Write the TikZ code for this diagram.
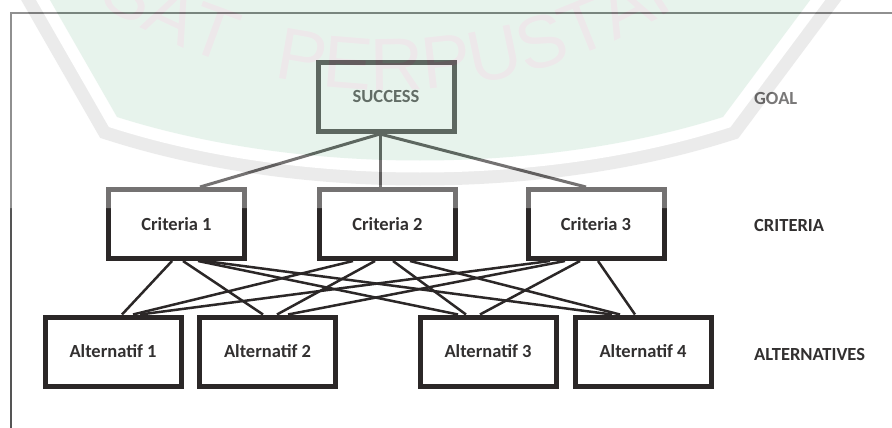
\documentclass[tikz,border=0pt]{standalone}
\usepackage{fontspec}
\setmainfont{Carlito}
\newfontfamily\wmfont{Liberation Sans}
\usetikzlibrary{decorations.text}
\definecolor{ink}{RGB}{43,39,39}
\definecolor{inktext}{RGB}{50,48,48}
\definecolor{framegrey}{RGB}{85,85,85}
\definecolor{wmgrey}{RGB}{200,200,200}
\definecolor{wmgreen}{RGB}{189,223,203}
\definecolor{wmtext}{RGB}{205,190,195}
\newcommand\lblfont{\fontsize{18.5}{20}\selectfont\bfseries}
\newcommand\sealfont{\wmfont\fontsize{74}{80}\selectfont\color{wmtext}}

\begin{document}
\begin{tikzpicture}[x=1pt,y=-1pt,
  box/.style={draw=ink, line width=5pt, fill=white, minimum width=136pt,
    minimum height=69pt, inner sep=0pt, text=inktext, font=\lblfont},
  tier/.style={anchor=west, inner sep=0pt, text=inktext, font=\lblfont},
  toplink/.style={draw=ink, line width=3pt},
  link/.style={draw=ink, line width=2.5pt}]

\useasboundingbox (0,0) rectangle (892,428);
\fill[white] (0,0) rectangle (892,428);

% frame lines
\draw[framegrey, line width=1.2pt] (892,13) -- (11,13) -- (11,428);

% hierarchy boxes
\node[box] (goal) at (386,97) {SUCCESS};
\node[box] (c1) at (176.5,224) {Criteria 1};
\node[box] (c2) at (387.5,224) {Criteria 2};
\node[box] (c3) at (596,224) {Criteria 3};
\node[box] (a1) at (113,351.5) {Alternatif 1};
\node[box] (a2) at (267.5,351.5) {Alternatif 2};
\node[box] (a3) at (488,351.5) {Alternatif 3};
\node[box] (a4) at (643,351.5) {Alternatif 4};

% level labels
\node[tier] (lgoal) at (754,98) {GOAL};
\node[tier] (lcrit) at (754,225) {CRITERIA};
\node[tier] (lalt) at (754,354) {ALTERNATIVES};

% goal to criteria
\draw[toplink] ([xshift=-6]goal.south) -- ([xshift=23.5]c1.north);
\draw[toplink] ([xshift=-6]goal.south) -- ([xshift=-7.5]c2.north);
\draw[toplink] ([xshift=-6]goal.south) -- ([xshift=-10]c3.north);

% criteria to alternatives
\draw[link] ([xshift=-4.5]c1.south) -- ([xshift=9]a1.north);
\draw[link] ([xshift=6.5]c1.south) -- ([xshift=-4.5]a2.north);
\draw[link] ([xshift=21.5]c1.south) -- ([xshift=-30]a3.north);
\draw[link] ([xshift=28.5]c1.south) -- ([xshift=-31]a4.north);

\draw[link] ([xshift=-34.5]c2.south) -- ([xshift=20]a1.north);
\draw[link] ([xshift=-12.5]c2.south) -- ([xshift=9.5]a2.north);
\draw[link] ([xshift=5.5]c2.south) -- ([xshift=-22]a3.north);
\draw[link] ([xshift=22.5]c2.south) -- ([xshift=-23]a4.north);

\draw[link] ([xshift=-46]c3.south) -- ([xshift=27]a1.north);
\draw[link] ([xshift=-31]c3.south) -- ([xshift=20.5]a2.north);
\draw[link] ([xshift=-16]c3.south) -- ([xshift=-8]a3.north);
\draw[link] ([xshift=2]c3.south) -- ([xshift=-8]a4.north);

% library seal stamped over the upper part
\begin{scope}[transparency group, opacity=.35]
  \clip (0,0) rectangle (892,208);
  \fill[white] (0,0) rectangle (892,208);
  \draw[wmgrey, line width=50pt]
    (27,-40) -- (117,117) .. controls (300,175) and (540,175) .. (723,117) -- (840,-40) -- cycle;
  \draw[white, line width=24pt]
    (27,-40) -- (117,117) .. controls (300,175) and (540,175) .. (723,117) -- (840,-40) -- cycle;
  \fill[wmgreen]
    (27,-40) -- (117,117) .. controls (300,175) and (540,175) .. (723,117) -- (840,-40) -- cycle;
  \path[decorate, decoration={text along path, text align=left,
      text={|\sealfont|PUSAT}}]
    plot[smooth, domain=134:100, samples=30] ({392+540*cos(\x)}, {-450+540*sin(\x)});
  \path[decorate, decoration={text along path, text align=left,
      text={|\sealfont|PERPUSTAKAAN}}]
    plot[smooth, domain=102.5:25, samples=60] ({390+540*cos(\x)}, {-450+540*sin(\x)});
\end{scope}
\end{tikzpicture}
\end{document}
